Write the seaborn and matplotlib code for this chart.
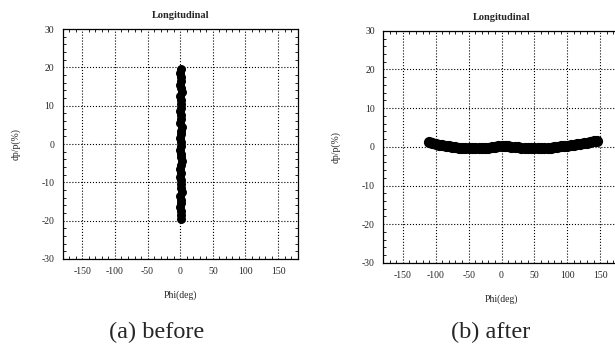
import matplotlib.pyplot as plt
import seaborn as sns

sns.set_style("white")
plt.rcParams["font.family"] = ["Liberation Serif", "DejaVu Serif"]
plt.rcParams["axes.unicode_minus"] = False

# before: particles bunched at phi ~ 0, spread over dp/p
before_phi = [1.0, 0.0, 1.5, 0.5, -0.5, 1.0, 2.0, 0.0, 1.0, 0.5,
              1.5, -0.5, 0.5, 1.0, 0.0, 2.0, 1.0, 0.5, -0.5, 1.5,
              1.0, 0.0, 0.5, 1.5, 2.0, 0.5, -0.5, 1.0, 0.0, 1.5,
              0.5, 1.0, 2.0, 0.0, 1.0, 0.5, -0.5, 1.5, 1.0, 0.5]
before_dp = [19.5, 18.5, 17.5, 16.5, 15.5, 14.5, 13.5, 12.5, 11.5, 10.5,
             9.5, 8.5, 7.5, 6.5, 5.5, 4.5, 3.5, 2.5, 1.5, 0.5,
             -0.5, -1.5, -2.5, -3.5, -4.5, -5.5, -6.5, -7.5, -8.5, -9.5,
             -10.5, -11.5, -12.5, -13.5, -14.5, -15.5, -16.5, -17.5, -18.5, -19.5]

# after: particles spread in phi, dp/p close to 0
after_phi = [-110, -105, -100, -95, -90, -85, -80, -75, -70, -65,
             -60, -55, -50, -45, -40, -35, -30, -25, -20, -15,
             -10, -5, 0, 5, 10, 15, 20, 25, 30, 35,
             40, 45, 50, 55, 60, 65, 70, 75, 80, 85,
             90, 95, 100, 105, 110, 115, 120, 125, 130, 135, 140, 145]
after_dp = [1.2, 1.0, 0.8, 0.6, 0.4, 0.3, 0.1, 0.0, -0.1, -0.2,
            -0.3, -0.3, -0.4, -0.4, -0.4, -0.4, -0.3, -0.3, -0.2, -0.1,
            0.0, 0.1, 0.2, 0.2, 0.1, 0.0, -0.1, -0.1, -0.2, -0.2,
            -0.3, -0.3, -0.3, -0.3, -0.3, -0.3, -0.2, -0.2, -0.1, 0.0,
            0.1, 0.2, 0.3, 0.4, 0.5, 0.7, 0.8, 0.9, 1.1, 1.3, 1.5, 1.6]

xticks = [-150, -100, -50, 0, 50, 100, 150]
yticks = [-30, -20, -10, 0, 10, 20, 30]

fig = plt.figure(figsize=(6.15, 3.5), dpi=100)
ax1 = fig.add_axes([0.102, 0.26, 0.382, 0.657])
# right panel runs a little past the page edge, as in the scan
ax2 = fig.add_axes([0.623, 0.249, 0.385, 0.663])

panels = [(ax1, before_phi, before_dp, 42), (ax2, after_phi, after_dp, 65)]
for ax, phi, dp, size in panels:
    sns.scatterplot(x=phi, y=dp, ax=ax, color="black", s=size,
                    edgecolor="black", linewidth=0, legend=False)
    ax.set_xlim(-180, 180)
    ax.set_ylim(-30, 30)
    ax.set_xticks(xticks)
    ax.set_yticks(yticks)
    ax.set_xticks(range(-180, 181, 10), minor=True)
    ax.set_yticks(range(-30, 31, 2), minor=True)
    ax.grid(True, which="major", color="black", linestyle=":", linewidth=0.8)
    ax.tick_params(which="both", direction="in", top=True, right=True,
                   bottom=True, left=True, labelsize=7, color="black")
    ax.tick_params(which="major", length=0, pad=6)
    ax.tick_params(which="minor", length=2.5)
    for sp in ax.spines.values():
        sp.set_color("black")
        sp.set_linewidth(0.9)
    ax.set_title("Longitudinal", fontsize=7.5, fontweight="bold", pad=8)
    ax.set_xlabel("Phi(deg)", fontsize=7, labelpad=10)
    ax.set_ylabel("dp/p(%)", fontsize=7, labelpad=15)

fig.text(0.255, 0.049, "(a) before", fontsize=17.5, ha="center", va="center")
fig.text(0.798, 0.049, "(b) after", fontsize=17.5, ha="center", va="center")

fig.savefig("out.png", dpi=100)
